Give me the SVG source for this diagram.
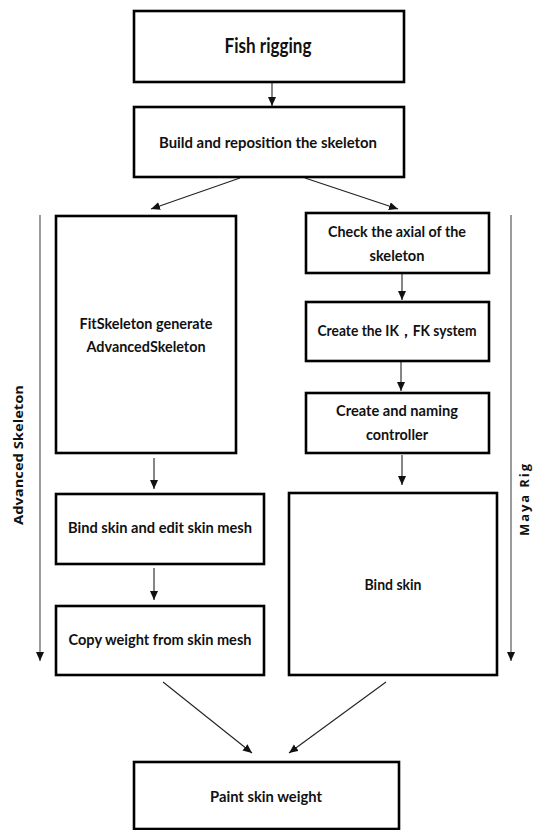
<svg xmlns="http://www.w3.org/2000/svg" width="533" height="830" viewBox="0 0 533 830">
<style>
.box{fill:#fff;stroke:#000;stroke-width:2.6}
.t{font-family:Lato,"Open Sans","Liberation Sans",sans-serif;font-weight:bold;font-size:15px;fill:#111;text-anchor:middle}
.big{font-size:20px}
.side{font-family:"Open Sans","Liberation Sans",sans-serif;font-weight:bold;font-size:13px;fill:#111;text-anchor:middle}
.c{stroke:#222;stroke-width:1.1;fill:none;marker-end:url(#ah)}
.g{stroke:#666;stroke-width:1.3;fill:none;marker-end:url(#ah)}
</style>
<defs>
<marker id="ah" markerUnits="userSpaceOnUse" markerWidth="10" markerHeight="10" refX="9" refY="4" orient="auto">
<path d="M0,0 L9,4 L0,8 Z" fill="#111"/>
</marker>
</defs>
<rect width="533" height="830" fill="#fff"/>
<g id="connectors">
<line class="c" x1="272" y1="83" x2="272" y2="106"/>
<line class="c" x1="240" y1="178" x2="151" y2="209"/>
<line class="c" x1="305" y1="178" x2="398" y2="209"/>
<line class="c" x1="402" y1="274" x2="402" y2="300"/>
<line class="c" x1="401" y1="362" x2="401" y2="391"/>
<line class="c" x1="402" y1="455" x2="402" y2="485"/>
<line class="c" x1="154" y1="458" x2="154" y2="489"/>
<line class="c" x1="154" y1="568" x2="154" y2="600"/>
<line class="c" x1="163" y1="682" x2="252" y2="753"/>
<line class="c" x1="386" y1="682" x2="289" y2="753"/>
<line class="g" x1="40" y1="215" x2="40" y2="661"/>
<line class="g" x1="511" y1="215" x2="511" y2="661"/>
</g>
<g id="fish-rigging">
<rect class="box" x="134" y="11" width="270" height="71"/>
<text class="t big" x="268" y="53" textLength="87" lengthAdjust="spacingAndGlyphs">Fish rigging</text>
</g>
<g id="build">
<rect class="box" x="134" y="107" width="270" height="70"/>
<text class="t" x="268" y="148" textLength="218" lengthAdjust="spacingAndGlyphs">Build and reposition the skeleton</text>
</g>
<g id="fitskeleton">
<rect class="box" x="56" y="216" width="180" height="237"/>
<text class="t" x="146" y="329" textLength="133" lengthAdjust="spacingAndGlyphs">FitSkeleton generate</text>
<text class="t" x="146" y="352" textLength="119" lengthAdjust="spacingAndGlyphs">AdvancedSkeleton</text>
</g>
<g id="check-axial">
<rect class="box" x="306" y="213" width="183" height="60"/>
<text class="t" x="397" y="237" textLength="138" lengthAdjust="spacingAndGlyphs">Check the axial of the</text>
<text class="t" x="397" y="261" textLength="55" lengthAdjust="spacingAndGlyphs">skeleton</text>
</g>
<g id="ik-fk">
<rect class="box" x="306" y="302" width="183" height="59"/>
<text class="t" x="397" y="336" textLength="159" lengthAdjust="spacingAndGlyphs">Create the IK，FK system</text>
</g>
<g id="controller">
<rect class="box" x="306" y="393" width="183" height="60"/>
<text class="t" x="397" y="416" textLength="122" lengthAdjust="spacingAndGlyphs">Create and naming</text>
<text class="t" x="397" y="440" textLength="62" lengthAdjust="spacingAndGlyphs">controller</text>
</g>
<g id="bind-skin">
<rect class="box" x="289" y="493" width="208" height="182"/>
<text class="t" x="393" y="590" textLength="57" lengthAdjust="spacingAndGlyphs">Bind skin</text>
</g>
<g id="bind-edit">
<rect class="box" x="56" y="494" width="208" height="70"/>
<text class="t" x="160" y="533" textLength="184" lengthAdjust="spacingAndGlyphs">Bind skin and edit skin mesh</text>
</g>
<g id="copy-weight">
<rect class="box" x="56" y="606" width="208" height="69"/>
<text class="t" x="160" y="645" textLength="183" lengthAdjust="spacingAndGlyphs">Copy weight from skin mesh</text>
</g>
<g id="paint">
<rect class="box" x="134" y="762" width="265" height="67"/>
<text class="t" x="266" y="802" textLength="112" lengthAdjust="spacingAndGlyphs">Paint skin weight</text>
</g>
<g id="labels">
<text class="side" transform="translate(23,455) rotate(-90)" textLength="140" lengthAdjust="spacingAndGlyphs">Advanced Skeleton</text>
<text class="side" transform="translate(529,500) rotate(-90)" textLength="72" lengthAdjust="spacing" font-family="'Liberation Sans',sans-serif">Maya  Rig</text>
</g>
</svg>
